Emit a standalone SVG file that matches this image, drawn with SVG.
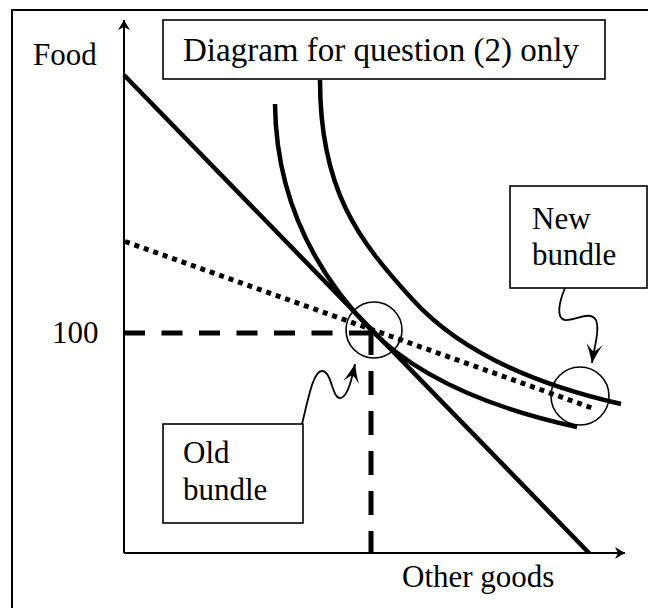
<svg xmlns="http://www.w3.org/2000/svg" width="648" height="608" viewBox="0 0 648 608">
<style>
text{font-family:"Liberation Serif","Times New Roman",serif;font-size:31px;fill:#000}
.big{font-size:33px}
.box{fill:#fff;stroke:#000;stroke-width:1.6}
.thick{fill:none;stroke:#000;stroke-width:4.5;stroke-linejoin:round}
.axis{fill:none;stroke:#000;stroke-width:2}
.circ{fill:none;stroke:#000;stroke-width:1.6}
.wig{fill:none;stroke:#000;stroke-width:1.8}
</style>
<defs>
<marker id="ah" viewBox="0 0 12 12" refX="10" refY="6" markerWidth="12" markerHeight="12" markerUnits="userSpaceOnUse" orient="auto">
<path d="M0,0 L10,6 L0,12 L3,6 Z" fill="#000"/>
</marker>
<marker id="sa" viewBox="0 0 22 18" refX="20" refY="9" markerWidth="22" markerHeight="18" markerUnits="userSpaceOnUse" orient="auto">
<path d="M20,9 Q9,5 1,1 Q8,7 8,9 Q8,11 1,17 Q9,13 20,9 Z" fill="#000"/>
</marker>
</defs>
<rect x="12" y="10" width="650" height="610" fill="#fff" stroke="#000" stroke-width="2"/>
<g id="connectors">
<line class="axis" x1="124" y1="553" x2="124" y2="20" marker-end="url(#ah)"/>
<line class="axis" x1="124" y1="553" x2="625" y2="553" marker-end="url(#ah)"/>
<line class="thick" x1="124" y1="75" x2="589" y2="553"/>
<line x1="125" y1="241.5" x2="592" y2="408" stroke="#000" stroke-width="5" stroke-dasharray="5 5"/>
<polyline points="124,333 370,333" fill="none" stroke="#000" stroke-width="5" stroke-dasharray="21 16.5"/>
<polyline points="371,331 371,553" fill="none" stroke="#000" stroke-width="5" stroke-dasharray="24 16"/>
<path class="thick" d="M275,104 C276,200 315,272 370,329 C420,380.3 497,409.6 577,427"/>
<path class="thick" d="M320,80 C320,190 358,239.9 413,300 C463,354.7 541,385.9 621,404"/>
<path class="wig" d="M302,424 C308,400 313,371 322,371 C332,371 332,400 341,398 C348,396 352,378 355,364" marker-end="url(#sa)"/>
<path class="wig" d="M565,288 C560,300 555,318 565,320 C575,321 590,310 596,320 C600,330 594,348 592,363" marker-end="url(#sa)"/>
</g>
<g id="old-circle"><circle class="circ" cx="374" cy="330" r="28"/></g>
<g id="new-circle"><circle class="circ" cx="580" cy="396" r="29"/></g>
<g id="title"><rect class="box" x="163" y="20" width="442" height="59"/><text class="big" x="183" y="61">Diagram for question (2) only</text></g>
<g id="new-bundle"><rect class="box" x="510" y="186" width="137" height="102"/><text x="532" y="229">New</text><text x="532" y="265">bundle</text></g>
<g id="old-bundle"><rect class="box" x="163" y="424" width="140" height="99"/><text x="183" y="463">Old</text><text x="183" y="500">bundle</text></g>
<g id="labels">
<text x="33" y="65">Food</text>
<text x="52" y="343">100</text>
<text x="402" y="587">Other goods</text>
</g>
</svg>
